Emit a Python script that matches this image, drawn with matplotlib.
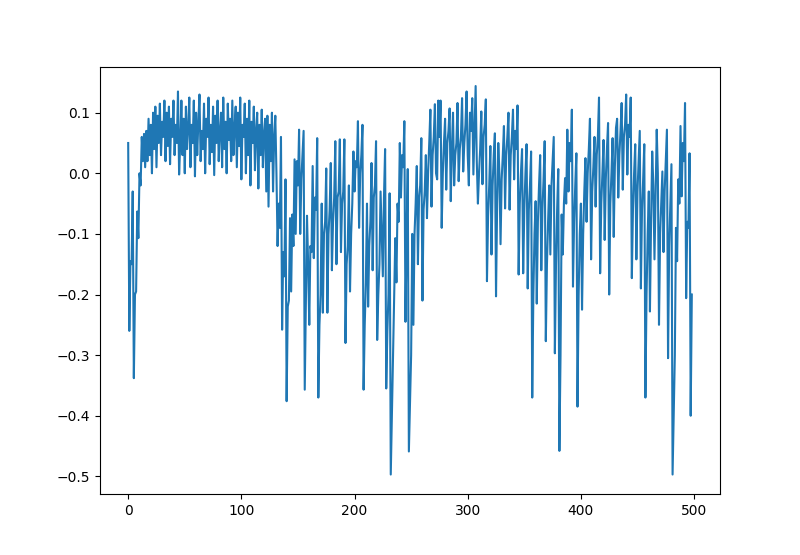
import numpy as np
import matplotlib
matplotlib.use("Agg")
import matplotlib.pyplot as plt

# ── data, split by stretch of the series ─────────────────────────────────────
warmup = [0.05, -0.26, -0.145, -0.15, -0.03, -0.338, -0.2, -0.195, -0.063, -0.107,
          0.0, -0.02]

plateau = [0.06, 0.02, 0.065, 0.01, 0.07, 0.02, 0.09, 0.03, 0.08, 0.0,
           0.1, 0.04, 0.11, 0.01, 0.095, 0.05, 0.115, 0.03, 0.085, 0.06,
           0.12, 0.02, 0.1, 0.045, 0.11, 0.015, 0.09, 0.06, 0.12, 0.03,
           0.08, 0.05, 0.135, -0.002,
           0.05, 0.12, 0.03, 0.09, 0.0, 0.11, 0.04, 0.075, 0.125, 0.01,
           0.08, 0.05, 0.12, -0.005, 0.1, 0.03, 0.085, 0.13, 0.02, 0.07,
           0.04, 0.115, 0.0, 0.09, 0.06, 0.125, 0.015, 0.08, 0.035, 0.11,
           -0.003, 0.095, 0.05, 0.12, 0.02, 0.07, 0.1, 0.01, 0.125, 0.04,
           0.085, 0.0, 0.115, 0.055, 0.09, 0.02, 0.12, 0.03, 0.075, 0.11,
           0.01, 0.1, 0.045, 0.125, -0.01, 0.08, 0.06, 0.115, 0.0, 0.09,
           0.03, 0.12, -0.02, 0.085, 0.05, 0.11, 0.005, 0.07, 0.1, -0.025,
           0.08, 0.03, 0.105, 0.01, 0.065, 0.09, -0.03, 0.095,
           -0.055, 0.08, 0.02, 0.1, -0.03, 0.06, 0.095, 0.0]

drop = [-0.12, -0.05, -0.09, 0.06, -0.258, -0.13, -0.17, -0.01, -0.376, -0.22,
        -0.21, -0.074, -0.195, -0.068, -0.12, 0.023, -0.1, 0.02, -0.02, 0.072,
        -0.1, -0.01, 0.03, 0.07, -0.357, -0.21, -0.07, -0.15, -0.25, -0.12,
        -0.13, 0.012, -0.14, -0.04, -0.06, 0.058, -0.37, -0.25, -0.2, -0.05,
        -0.23, -0.1, -0.08, 0.008, -0.23, -0.1, -0.06, 0.017, -0.16, -0.08,
        -0.04, 0.053, -0.15, -0.04, -0.03, 0.056, -0.13, -0.05, -0.03, 0.056,
        -0.28, -0.15, -0.12, -0.02, -0.195, -0.1, -0.05, 0.036, -0.03, 0.02,
        0.01, 0.086, -0.09, 0.0, 0.03, 0.08, -0.357, -0.25, -0.18, -0.05,
        -0.22, -0.12, -0.08, 0.017, -0.16, -0.04, -0.02, 0.053, -0.275, -0.2,
        -0.15, -0.03, -0.1, -0.17, -0.04, 0.04, -0.355, -0.26, -0.2, -0.033,
        -0.497, -0.4, -0.3, -0.2, -0.107, -0.18, -0.05, -0.08, 0.05, -0.04,
        0.03, 0.01, 0.086, -0.245, -0.1, 0.007, -0.459, -0.38, -0.3, -0.1,
        -0.25, -0.1, -0.05, 0.012, -0.15, -0.04, -0.02, 0.058, -0.21, -0.06,
        -0.03, 0.03, -0.074, 0.0, 0.05]

recovery = [0.105, -0.055, 0.03, 0.06, 0.114, 0.0, -0.01, 0.12, 0.06, 0.12,
            -0.09, 0.0, 0.05, 0.09, -0.027, 0.05, 0.07, 0.107, -0.046, 0.04,
            0.1, -0.02, 0.03, 0.05, 0.116, -0.013, 0.04, 0.06, 0.124, 0.003,
            0.05, 0.08, 0.135, 0.03, -0.02, 0.1, 0.07, 0.124, -0.002, 0.07,
            0.144, 0.02, -0.05, 0.0, 0.04, 0.102, -0.018, 0.06, 0.08, 0.122]

tail = [-0.178, -0.07, -0.02, 0.045, -0.134, -0.02, 0.03, 0.066, -0.203, -0.05,
        0.05, 0.0, -0.117, -0.01, 0.03, 0.078, -0.058, 0.03, 0.06, 0.1,
        -0.06, 0.03, 0.06, 0.105, -0.01, 0.07, 0.04, 0.112, -0.167, -0.05,
        0.0, 0.04, -0.165, -0.06, 0.0, 0.048, -0.19, -0.06, -0.02, 0.036,
        -0.37, -0.2, -0.1, -0.046, -0.215, -0.08, -0.02, 0.03, -0.16, -0.06,
        -0.01, 0.053, -0.277, -0.15, -0.08, -0.02, -0.134, -0.02, 0.02, 0.06,
        -0.297, -0.15, -0.06, 0.007, -0.458, -0.3, -0.068, -0.134, -0.05, -0.008,
        -0.05, 0.072, -0.03, 0.05, 0.02, 0.105, -0.187, -0.08, -0.02, 0.033,
        -0.385, -0.2, -0.1, -0.05, -0.225, -0.1, -0.03, 0.025, -0.08, 0.0,
        0.04, 0.09, -0.142, -0.03, 0.01, 0.06, -0.055, 0.03, 0.06, 0.125,
        -0.165, -0.05, 0.0, 0.055, -0.11, -0.01, 0.04, 0.083, -0.2, -0.05,
        0.0, 0.058, -0.105, 0.01, 0.075, 0.09, -0.04, 0.03, 0.07, 0.116,
        -0.027, 0.06, 0.08, 0.13, -0.002, 0.08, 0.06, 0.125, -0.173, -0.06,
        0.0, 0.048, -0.142, -0.03, 0.02, 0.07, -0.19, -0.06, -0.01, 0.048,
        -0.37, -0.2, -0.1, -0.03, -0.228, -0.08, 0.036, -0.02, -0.142, -0.03,
        0.072, 0.0, -0.25, -0.1, -0.05, 0.003, -0.13, -0.03, 0.02, 0.072,
        -0.305, -0.12, -0.05, 0.015, -0.497, -0.4, -0.3, -0.09, -0.145, -0.01,
        -0.05, 0.078, -0.038, 0.05, 0.02, 0.116, -0.206, -0.08, -0.09, 0.033,
        -0.4, -0.2]

values = np.array(warmup + plateau + drop + recovery + tail)
steps = np.arange(len(values))

fig, ax = plt.subplots(figsize=(8, 5.55), dpi=100)
ax.plot(steps, values)

fig.savefig("out.png")
print(len(values))
